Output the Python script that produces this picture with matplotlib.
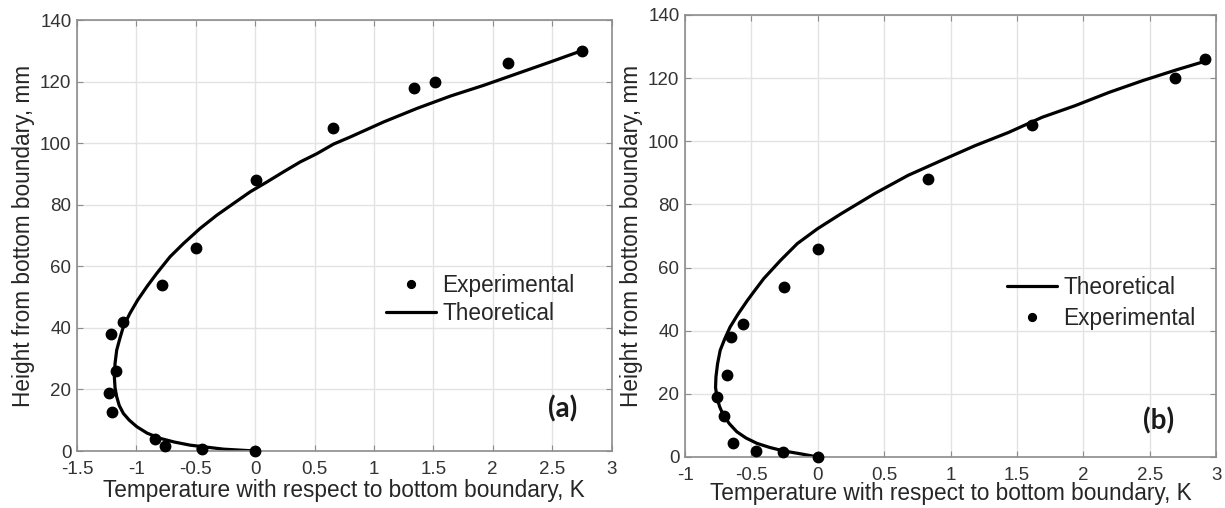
import matplotlib
matplotlib.use("Agg")
import matplotlib.pyplot as plt

plt.rcParams['font.family'] = ['Liberation Sans', 'DejaVu Sans']

# ---- panel (a) data ----
exp_a_T = [0.0, -0.45, -0.76, -0.84, -1.205, -1.228, -1.172, -1.217, -1.11,
           -0.784, -0.497, 0.008, 0.655, 1.335, 1.51, 2.128, 2.75]
exp_a_h = [0, 0.8, 1.6, 3.8, 12.7, 18.7, 26, 38, 42, 54, 66, 88, 105, 118, 120, 126, 130]

theo_a_T = [0.0, -0.267, -0.548, -0.68, -0.80, -0.91, -0.997, -1.06, -1.11, -1.145,
            -1.166, -1.18, -1.186, -1.18, -1.166, -1.14, -1.11, -1.055,
            -0.99, -0.91, -0.829, -0.717, -0.604, -0.464, -0.323, -0.183, -0.042, 0.099,
            0.239, 0.379, 0.52, 0.66, 0.80, 1.082, 1.363, 1.644, 1.925, 2.206,
            2.487, 2.74]
theo_a_h = [0, 0.6, 1.9, 2.9, 4.1, 5.8, 7.9, 10.0, 12.2, 14.8,
            17.6, 20.5, 24.1, 28.5, 32.8, 36.5, 40.4, 44.7,
            49.0, 53.5, 57.7, 63.1, 67.4, 72.3, 76.6, 80.4, 84.2, 87.4,
            90.7, 93.9, 96.6, 99.7, 102.0, 106.9, 111.3, 115.3, 118.8, 122.6,
            126.4, 129.9]

# ---- panel (b) data ----
exp_b_T = [0.0, -0.26, -0.465, -0.64, -0.71, -0.76, -0.684, -0.65, -0.563,
           -0.255, 0.005, 0.83, 1.614, 2.69, 2.92]
exp_b_h = [0, 1.5, 2, 4.3, 13, 19, 26, 38, 42, 54, 66, 88, 105, 120, 126]

theo_b_T = [0.0, -0.129, -0.255, -0.36, -0.457, -0.54, -0.61, -0.665, -0.71, -0.74,
            -0.76, -0.77, -0.767, -0.755, -0.735, -0.70, -0.66, -0.60,
            -0.53, -0.47, -0.407, -0.28, -0.154, -0.002, 0.174, 0.427, 0.68, 0.93, 1.184,
            1.437, 1.69, 1.94, 2.195, 2.447, 2.70, 2.914]
theo_b_h = [0, 1.0, 1.9, 3.0, 4.3, 6.0, 8.0, 10.5, 13.1, 16.0,
            19.1, 22.0, 25.4, 29.5, 33.8, 37.5, 41.2, 45.3,
            49.6, 53.0, 56.5, 62.3, 67.6, 72.3, 77.0, 83.4, 89.2, 93.9, 98.6,
            102.8, 107.6, 111.3, 115.5, 119.2, 122.6, 125.3]

xticks_a = [-1.5, -1, -0.5, 0, 0.5, 1, 1.5, 2, 2.5, 3]
xticks_b = [-1, -0.5, 0, 0.5, 1, 1.5, 2, 2.5, 3]
yticks = [0, 20, 40, 60, 80, 100, 120, 140]

fig = plt.figure(figsize=(12.25, 5.08), dpi=100)
ax1 = fig.add_axes([0.0629, 0.1122, 0.4363, 0.8484])
ax2 = fig.add_axes([0.5592, 0.1004, 0.4335, 0.8701])


def style_axes(ax, xticks, xlim, xlabelpad):
    ax.set_xlim(*xlim)
    ax.set_ylim(0, 140)
    ax.set_xticks(xticks)
    ax.set_xticklabels([f"{t:g}" for t in xticks])
    ax.set_yticks(yticks)
    ax.grid(True, color='#e3e3e3', linewidth=1.0)
    ax.set_axisbelow(True)
    for s in ax.spines.values():
        s.set_color('#8c8c8c')
        s.set_linewidth(1.2)
    ax.tick_params(direction='in', top=True, right=True, length=4, width=0.8,
                   color='#8c8c8c', labelsize=13.5, labelcolor='#333333')
    ax.tick_params(axis='x', pad=7)
    ax.tick_params(axis='y', pad=4)
    ax.set_xlabel("Temperature with respect to bottom boundary, K", fontsize=16.3,
                  color='#262626', labelpad=xlabelpad)
    ax.set_ylabel("Height from bottom boundary, mm", fontsize=16.3,
                  color='#262626', labelpad=4)


# panel (a)
style_axes(ax1, xticks_a, (-1.5, 3), 1)
ax1.plot(exp_a_T, exp_a_h, 'o', color='black', markersize=7.5, clip_on=False,
         label='Experimental', zorder=3)
ax1.plot(theo_a_T, theo_a_h, '-', color='black', linewidth=2.3, label='Theoretical',
         zorder=2, solid_capstyle='round', solid_joinstyle='round')
leg1 = ax1.legend(loc='upper left', bbox_to_anchor=(0.578, 0.41), frameon=False,
                  fontsize=16.3, handlelength=2.2, handletextpad=0.3,
                  labelspacing=0.2, borderpad=0, borderaxespad=0, markerscale=0.75)
for t in leg1.get_texts():
    t.set_color('#262626')
ax1.text(0.909, 0.098, "(a)", transform=ax1.transAxes, fontsize=20,
         fontweight='bold', family='Lato', ha='center', va='center', color='#1a1a1a')

# panel (b)
style_axes(ax2, xticks_b, (-1, 3), -1)
ax2.plot(theo_b_T, theo_b_h, '-', color='black', linewidth=2.3, label='Theoretical',
         zorder=2, solid_capstyle='round', solid_joinstyle='round')
ax2.plot(exp_b_T, exp_b_h, 'o', color='black', markersize=7.5, clip_on=False,
         label='Experimental', zorder=3)
leg2 = ax2.legend(loc='upper left', bbox_to_anchor=(0.606, 0.41), frameon=False,
                  fontsize=16.3, handlelength=2.2, handletextpad=0.3,
                  labelspacing=0.35, borderpad=0, borderaxespad=0, markerscale=0.75)
for t in leg2.get_texts():
    t.set_color('#262626')
ax2.text(0.891, 0.081, "(b)", transform=ax2.transAxes, fontsize=20,
         fontweight='bold', family='Lato', ha='center', va='center', color='#1a1a1a')

fig.savefig("out.png", dpi=100)
